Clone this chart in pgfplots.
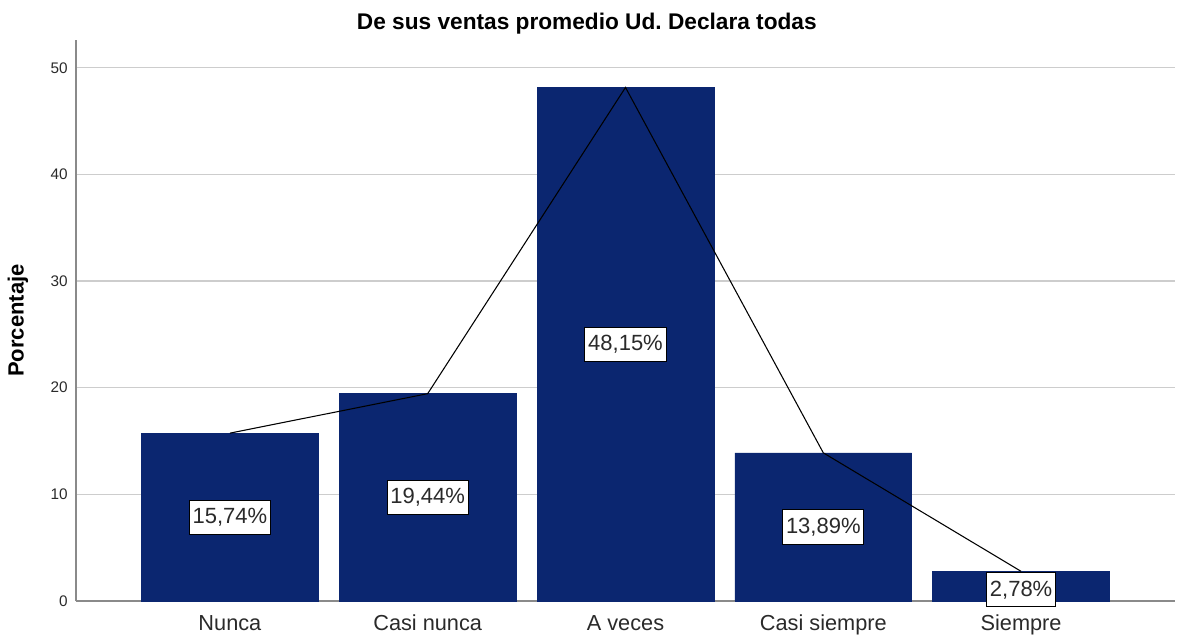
\documentclass[border=0pt]{standalone}
\usepackage{pgfplots}
\usepackage{pgfplotstable}
\pgfplotsset{compat=1.18}
\usepackage{fontspec}
\setmainfont{Liberation Sans}
\frenchspacing
\definecolor{spssbar}{HTML}{0B2670}
\definecolor{spssgrid}{HTML}{CDCDCD}
\definecolor{spssaxis}{HTML}{8A8A8A}
\definecolor{spsstext}{HTML}{2A2A2A}

% x = category index, val = percentage, mid = label height
\pgfplotstableread{
x val mid
0 15.74 7.87
1 19.44 9.72
2 48.15 24.075
3 13.89 6.945
4 2.78 1.05
}\ventas

\begin{document}
\begin{tikzpicture}
\begin{axis}[
  scale only axis,
  width=824.25pt, height=420.75pt,
  xmin=-0.778, xmax=4.778,
  ymin=0, ymax=52.6,
  axis lines=left,
  axis line style={spssaxis, line width=0.9pt, -},
  xtick=data,
  xticklabels={Nunca, Casi nunca, A veces, Casi siempre, Siempre},
  ytick={0,10,20,30,40,50},
  major tick length=0pt,
  ymajorgrids,
  grid style={spssgrid, line width=1pt},
  xticklabel style={font=\fontsize{16.3}{18}\selectfont, color=spsstext, anchor=base, inner sep=0pt, yshift=-22pt},
  yticklabel style={font=\fontsize{11.5}{13}\selectfont, color=spsstext, anchor=east, inner sep=0pt, xshift=-6pt},
  /pgf/number format/assume math mode=true,
  ylabel={Porcentaje},
  ylabel style={font=\bfseries\fontsize{16.5}{18}\selectfont, at={(axis description cs:-0.0528,0.5)}, anchor=center},
  title={De sus ventas promedio Ud. Declara todas},
  title style={font=\bfseries\fontsize{17}{19}\selectfont, at={(axis description cs:0.5,1)}, anchor=center, yshift=6pt, xshift=-29pt},
  clip=false,
]
\addplot[ybar, bar width=0.894, fill=spssbar, draw=spssbar] table[x=x, y=val] {\ventas};
\addplot[black, line width=0.8pt, sharp plot, mark=none] table[x=x, y=val] {\ventas};
\addplot[draw=none, mark=none, point meta=explicit,
  nodes near coords={\pgfmathprintnumber[fixed, fixed zerofill, precision=2, use comma]{\pgfplotspointmeta}\%},
  every node near coord/.append style={anchor=center, fill=white, draw=black, line width=0.7pt,
    inner xsep=2.5pt, inner ysep=6pt, font=\fontsize{16.5}{18}\selectfont, text=spsstext}]
  table[x=x, y=mid, meta=val] {\ventas};
\end{axis}
\pgfresetboundingbox
\path (-57pt,-27pt) rectangle (826.5pt,450.75pt);
\end{tikzpicture}
\end{document}
